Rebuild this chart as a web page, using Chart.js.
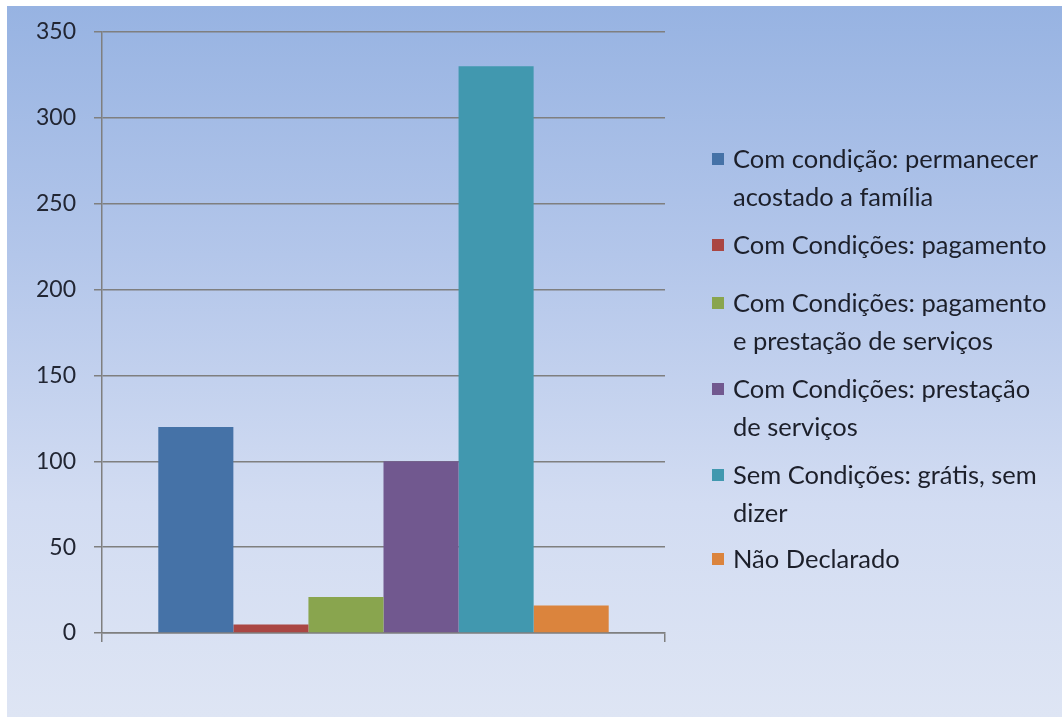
<!DOCTYPE html>
<html>
<head>
<meta charset="utf-8">
<script src="https://cdn.jsdelivr.net/npm/chart.js@4/dist/chart.umd.min.js"></script>
<style>
  html, body { margin: 0; padding: 0; background: #ffffff; }
  #wrap { position: absolute; left: 7px; top: 6px; width: 1055px; height: 711px;
          background: linear-gradient(to bottom, #97b3e2 0%, #b3c6ea 35%, #d2dcf2 70%, #dee5f4 100%); }
  canvas { display: block; }
</style>
</head>
<body>
<div id="wrap"><canvas id="c" width="1055" height="711"></canvas></div>
<script>
const categories = [''];
const seriesNames = [
  ['Com condição: permanecer', 'acostado a família'],
  ['Com Condições: pagamento'],
  ['Com Condições: pagamento', 'e prestação de serviços'],
  ['Com Condições: prestação', 'de serviços'],
  ['Sem Condições: grátis, sem', 'dizer'],
  ['Não Declarado']
];
const seriesValues = [120, 5, 21, 100, 330, 16];
const seriesColors = ['#4572a7', '#aa4643', '#89a54e', '#71588f', '#4198af', '#db843d'];
const yTicks = [0, 50, 100, 150, 200, 250, 300, 350];

const FONT = 'Lato, "Open Sans", sans-serif';

const legendPlugin = {
  id: 'sideLegend',
  afterDraw(chart) {
    const ctx = chart.ctx;
    const x0 = 705, textX = 726;
    const itemTops = [153, 239, 297, 383, 469, 553];
    const lineH = 38;
    ctx.save();
    ctx.font = '25.5px ' + FONT;
    ctx.textBaseline = 'middle';
    ctx.textAlign = 'left';
    chart.data.datasets.forEach((ds, i) => {
      const y = itemTops[i];
      ctx.fillStyle = ds.backgroundColor;
      ctx.fillRect(x0, y - 6, 12, 12);
      ctx.fillStyle = '#1c1f2a';
      const lines = Array.isArray(ds.label) ? ds.label : [ds.label];
      lines.forEach((t, j) => ctx.fillText(t, textX, y + 1 + j * lineH));
    });
    ctx.restore();
  }
};

new Chart(document.getElementById('c'), {
  type: 'bar',
  data: {
    labels: categories,
    datasets: seriesNames.map((n, i) => ({
      label: n,
      data: [seriesValues[i]],
      backgroundColor: seriesColors[i],
      borderWidth: 0
    }))
  },
  options: {
    responsive: false,
    animation: false,
    events: [],
    layout: { padding: { top: 26, right: 397, bottom: 0, left: 0 } },
    datasets: { bar: { categoryPercentage: 0.8, barPercentage: 1.0 } },
    plugins: { legend: { display: false }, tooltip: { enabled: false } },
    scales: {
      x: {
        offset: true,
        grid: { display: true, drawOnChartArea: false, drawTicks: true, tickLength: 9, color: '#7f7f7f', lineWidth: 1.5 },
        border: { display: true, color: '#7f7f7f', width: 1.5 },
        ticks: { display: false },
        afterFit(scale) { scale.height = 84; scale.paddingLeft = 0; scale.paddingRight = 0; }
      },
      y: {
        min: 0, max: 350,
        afterBuildTicks(scale) { scale.ticks = yTicks.map(v => ({ value: v })); },
        grid: { color: '#7f7f7f', lineWidth: 1.5, tickLength: 8, drawTicks: true },
        border: { display: true, color: '#7f7f7f', width: 1.5 },
        ticks: { color: '#222633', font: { size: 23, family: FONT }, padding: 18 },
        afterFit(scale) { scale.width = 95; scale.paddingTop = 0; scale.paddingBottom = 0; }
      }
    }
  },
  plugins: [legendPlugin]
});
</script>
</body>
</html>
